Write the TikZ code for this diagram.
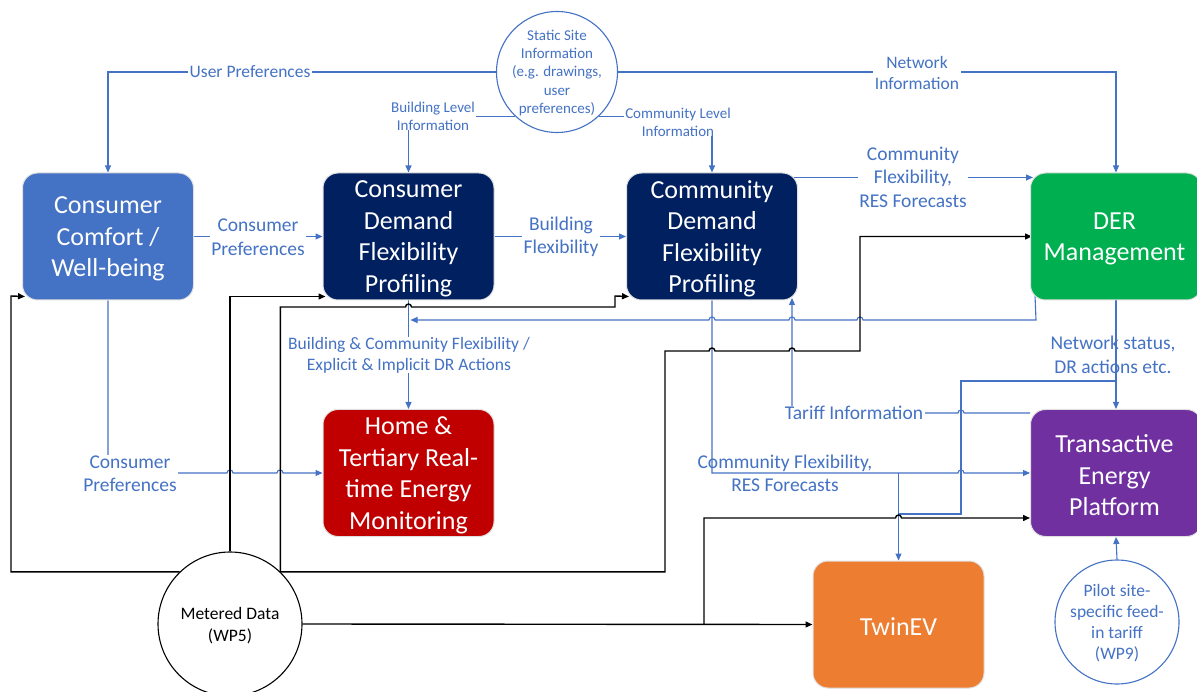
\documentclass[tikz,border=0pt]{standalone}
\usepackage{fontspec}
\setmainfont{Carlito}
\usetikzlibrary{arrows.meta}
\definecolor{offblue}{HTML}{4472C4}
\definecolor{navy}{HTML}{002060}
\definecolor{dergreen}{HTML}{00B050}
\definecolor{homered}{HTML}{C00000}
\definecolor{tepurple}{HTML}{7030A0}
\definecolor{evorange}{HTML}{ED7D31}
\pgfdeclarelayer{bg}
\pgfsetlayers{bg,main}
\tikzset{
  box/.style={rounded corners=15pt, minimum width=171pt, minimum height=127pt,
    inner sep=0pt, draw=black!12, line width=1pt},
  boxtext/.style={inner sep=0pt, text=white, align=center, yshift=-2.5pt,
    font=\fontsize{26}{31.5}\selectfont},
  ring/.style={circle, inner sep=0pt, fill=white, line width=1.1pt},
  lblL/.style={text=offblue, align=center, inner xsep=1.5pt, inner ysep=0pt,
    font=\fontsize{19.5}{23.5}\selectfont},
  lblM/.style={text=offblue, align=center, inner xsep=1.5pt, inner ysep=0pt,
    font=\fontsize{17.5}{21}\selectfont},
  lblS/.style={text=offblue, align=center, inner xsep=1.5pt, inner ysep=0pt,
    font=\fontsize{15}{18.2}\selectfont},
  gap/.style={fill=white},
  bline/.style={draw=offblue, line width=1.1pt},
  kline/.style={draw=black, line width=1.4pt},
  arr/.style={-{Triangle[length=7pt,width=6pt]}},
}
\begin{document}
\begin{tikzpicture}[x=1pt,y=-1pt]
\useasboundingbox (0,0) rectangle (1197,692);
\begin{pgfonlayer}{bg}
  \fill[white] (0,0) rectangle (1197,692);
\end{pgfonlayer}

% process boxes
\node[box, fill=offblue] (comfort) at (108,236.5) {};
\node[boxtext] (comforttext) at (comfort) {Consumer\\Comfort /\\Well-being};
\node[box, fill=navy] (cdf) at (408.5,236.5) {};
\node[boxtext] (cdftext) at (cdf) {Consumer\\Demand\\Flexibility\\Profiling};
\node[box, fill=navy] (comdf) at (712,236.5) {};
\node[boxtext] (comdftext) at (comdf) {Community\\Demand\\Flexibility\\Profiling};
\node[box, fill=dergreen] (der) at (1116,236.5) {};
\node[boxtext] (dertext) at ([xshift=-1.5pt]der.center) {DER\\Management};
\node[box, fill=homered] (home) at (408.5,473) {};
\node[boxtext] (hometext) at (home) {Home \&\\Tertiary Real-\\time Energy\\Monitoring};
\node[box, fill=tepurple] (tep) at (1116,473) {};
\node[boxtext] (teptext) at ([xshift=-1.5pt]tep.center) {Transactive\\Energy\\Platform};
\node[box, fill=evorange] (twinev) at (898.5,624.5) {};
\node[boxtext] (twinevtext) at (twinev) {TwinEV};

% data sources
\node[ring, draw=offblue, minimum size=121pt] (static) at (557,72) {};
\node[lblS] (statictext) at ([yshift=-1pt]static.center) {Static Site\\Information\\(e.g. drawings,\\user\\preferences)};
\node[ring, draw=black, minimum size=144pt] (metered) at (230,624) {};
\node[align=center, font=\fontsize{17.5}{22}\selectfont] (meteredtext) at ([yshift=-1.5pt]metered.center) {Metered Data\\(WP5)};
\node[ring, draw=offblue, minimum size=124pt] (pilot) at (1117,622) {};
\node[lblM] (pilottext) at ([yshift=-1pt]pilot.center) {Pilot site-\\specific feed-\\in tariff\\(WP9)};

\begin{pgfonlayer}{bg}
  % information flows (blue)
  \draw[bline,arr] (static.west) -| (comfort.north);
  \draw[bline,arr] (static.227) -| (cdf.north);
  \draw[bline,arr] (static.-47) -| (comdf.north);
  \draw[bline,arr] (static.east) -| (der.north);
  \draw[bline,arr] (comfort.east) -- (cdf.west);
  \draw[bline,arr] (cdf.east) -- (comdf.west);
  \draw[bline,arr] ([xshift=-8pt,yshift=-5pt]comdf.north east) -- ([xshift=3pt,yshift=-5pt]der.north west);
  \draw[bline,arr] (comfort.south) -- (108,473) -- (227,473)
      arc[start angle=180,end angle=0,radius=3pt] -- (277,473)
      arc[start angle=180,end angle=0,radius=3pt] -- (home.west);
  \draw[bline,arr] (cdf.south) -- (home.north);
  \draw[bline,arr] ([xshift=5pt,yshift=5pt]der.south west) -- (1036,320) -- (863,320)
      arc[start angle=0,end angle=180,radius=3pt] -- (795,320)
      arc[start angle=0,end angle=180,radius=3pt] -- (715,320)
      arc[start angle=0,end angle=180,radius=3pt] -- (410.5,320);
  \draw[bline,arr] (comdf.south) -- (712,473) -- (958,473)
      arc[start angle=180,end angle=0,radius=3pt] -- (tep.west);
  \draw[bline,arr] (898.5,473) -- (twinev.north);
  \draw[bline,arr] (der.south) -- (tep.north);
  \draw[bline] (1116,381) -- (961,381) -- (961,514) -- (898.5,514);
  \draw[bline,arr] ([yshift=-4pt]tep.north west) -- (964,413)
      arc[start angle=0,end angle=180,radius=3pt] -- (792,413) -- (792,298);
  \draw[bline,arr] (pilot.north) -- (tep.south);

  % metered data feeds (black)
  \draw[kline,arr] (metered.134) -| (11,296) -- ([xshift=3pt,yshift=4pt]comfort.south west);
  \draw[kline,arr] (metered.north) |- ([xshift=3pt,yshift=4pt]cdf.south west);
  \draw[kline,arr] (metered.46) |- (405.5,307)
      arc[start angle=180,end angle=0,radius=3pt] -- (615,307) -- (615,296)
      -- ([xshift=3pt,yshift=4pt]comdf.south west);
  \draw[kline,arr] (metered.46) -| (665,351) -- (709,351)
      arc[start angle=180,end angle=0,radius=3pt] -- (789,351)
      arc[start angle=180,end angle=0,radius=3pt] -- (860,351) -- (860,236.5)
      -- ([xshift=2pt]der.west);
  \draw[kline,arr] (metered.east) -- (twinev.west);
  \draw[kline,arr] (704,624.5) -- (704,518) -- (895.5,518)
      arc[start angle=180,end angle=0,radius=3pt] -- ([yshift=-45pt]tep.west);
\end{pgfonlayer}

% connector labels
\node[lblM, gap] (lupref) at (250,72) {User Preferences};
\node[lblS, gap] (lbldg) at (433,116) {Building Level\\Information};
\node[lblS, gap] (lcomm) at (678,122) {Community Level\\Information};
\node[lblM, gap] (lnet) at (917,72.5) {Network\\Information};
\node[lblL, gap] (lcpref) at (258,237) {Consumer\\Preferences};
\node[lblL, gap] (lbflex) at (561,237) {Building\\Flexibility};
\node[lblL, gap] (lcflex) at (913,177) {Community\\Flexibility,\\RES Forecasts};
\node[lblL, gap] (lcpref2) at (130,473.5) {Consumer\\Preferences};
\node[lblM, gap] (ldr) at (409,355) {Building \& Community Flexibility /\\Explicit \& Implicit DR Actions};
\node[lblL] (lcflex2) at (785,473.5) {Community Flexibility,\\RES Forecasts};
\node[lblL] (lnetst) at (1113,355) {Network status,\\DR actions etc.};
\node[lblL, gap] (ltariff) at (854,413) {Tariff Information};
\end{tikzpicture}
\end{document}
